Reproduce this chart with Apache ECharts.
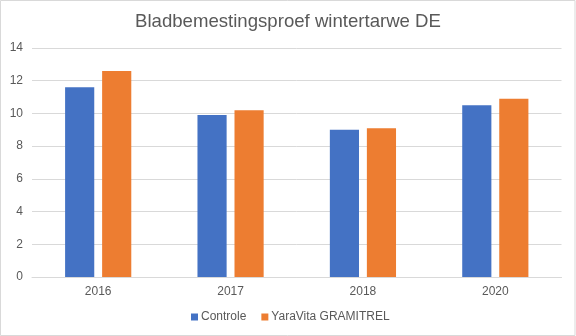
<!DOCTYPE html>
<html>
<head>
<meta charset="utf-8">
<script src="https://cdn.jsdelivr.net/npm/echarts@6/dist/echarts.min.js"></script>
<style>
  html, body { margin: 0; padding: 0; background: #ffffff; }
  #chart { width: 576px; height: 336px; }
</style>
</head>
<body>
<div id="chart"></div>
<script>
// Trial years and yield per treatment
const years = ['2016', '2017', '2018', '2020'];
const controle = [11.6, 9.9, 9.0, 10.5];
const gramitrel = [12.6, 10.2, 9.1, 10.9];
const seriesNames = ['Controle', 'YaraVita GRAMITREL'];

const textColor = '#595959';
const lineColor = '#d9d9d9';
const font = '"Liberation Sans", Arial, sans-serif';

const chart = echarts.init(document.getElementById('chart'), null, { renderer: 'canvas' });
chart.setOption({
  backgroundColor: '#ffffff',
  animation: false,
  title: {
    text: 'Bladbemestingsproef wintertarwe DE',
    left: 'center',
    top: 12,
    padding: 0,
    textStyle: { color: textColor, fontSize: 18.6, fontWeight: 'normal', fontFamily: font }
  },
  graphic: [{
    type: 'rect',
    shape: { x: 0.5, y: 0.5, width: 574.5, height: 335 },
    style: { fill: 'none', stroke: lineColor, lineWidth: 1 },
    silent: true,
    z: 100
  }],
  legend: {
    data: seriesNames,
    bottom: 13,
    left: 191,
    padding: 0,
    itemWidth: 7,
    itemHeight: 7,
    itemGap: 15,
    icon: 'rect',
    textStyle: { color: textColor, fontSize: 12, fontFamily: font, padding: [0, 0, 0, -2] }
  },
  grid: { left: 32, right: 14.5, top: 48, bottom: 59, containLabel: false },
  xAxis: {
    type: 'category',
    data: years,
    axisLine: { lineStyle: { color: lineColor } },
    axisTick: { show: false },
    axisLabel: { color: textColor, fontSize: 12, fontFamily: font, margin: 9 }
  },
  yAxis: {
    type: 'value',
    min: 0,
    max: 14,
    interval: 2,
    axisLine: { show: false },
    axisTick: { show: false },
    splitLine: { lineStyle: { color: lineColor } },
    axisLabel: { color: textColor, fontSize: 12, fontFamily: font, margin: 9 }
  },
  series: [
    {
      name: seriesNames[0],
      type: 'bar',
      data: controle,
      itemStyle: { color: '#4472C4' },
      barGap: '27%',
      barCategoryGap: '50%'
    },
    {
      name: seriesNames[1],
      type: 'bar',
      data: gramitrel,
      itemStyle: { color: '#ED7D31' }
    }
  ]
});
</script>
</body>
</html>
